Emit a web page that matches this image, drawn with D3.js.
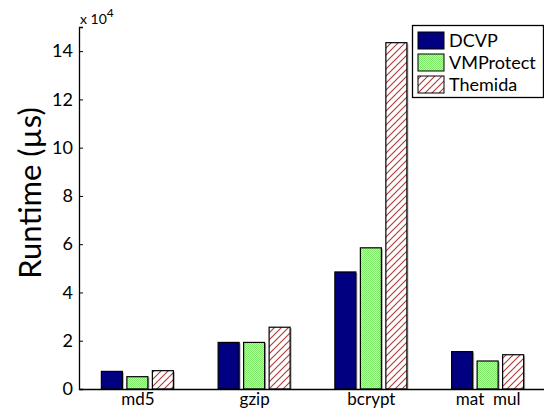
<!DOCTYPE html>
<html><head><meta charset="utf-8">
<script src="https://cdn.jsdelivr.net/npm/d3@7"></script>
<style>body{margin:0;background:#fff}svg{display:block}text{font-family:Lato,"Open Sans",sans-serif;fill:#000}</style>
</head><body><svg id="c" width="544" height="410"></svg>
<script>
const categories = ["md5", "gzip", "bcrypt", "mat  mul"];
const seriesNames = ["DCVP", "VMProtect", "Themida"];
const dcvp = [7300, 19300, 48500, 15500];
const vmprotect = [5100, 19300, 58500, 11600];
const themida = [7600, 25600, 143500, 14200];
const yTicks = [0, 2, 4, 6, 8, 10, 12, 14];
const values = [dcvp, vmprotect, themida];

const svg = d3.select("#c");
const defs = svg.append("defs");
const hp = defs.append("pattern").attr("id","hatch").attr("patternUnits","userSpaceOnUse").attr("width",7).attr("height",7);
hp.append("rect").attr("width",7).attr("height",7).attr("fill","#fff");
hp.append("path").attr("d","M0,7 L7,0 M-1,1 L1,-1 M6,8 L8,6").attr("stroke","#b03838").attr("stroke-width",1.1);
const gp = defs.append("pattern").attr("id","green").attr("patternUnits","userSpaceOnUse").attr("width",2).attr("height",2);
gp.append("rect").attr("width",2).attr("height",2).attr("fill","#b8ff98");
gp.append("rect").attr("width",1).attr("height",1).attr("fill","#80e868");
gp.append("rect").attr("x",1).attr("y",1).attr("width",1).attr("height",1).attr("fill","#80e868");
const fills = ["#000080", "url(#green)", "url(#hatch)"];

const x = d3.scaleLinear().domain([0.5, 4.5]).range([79, 546]);
const xs = d3.scaleBand().domain(seriesNames).range([-36, 36]).paddingInner(0.176);
const y = d3.scaleLinear().domain([0, 15]).range([389, 27]);

// bars
seriesNames.forEach((s, si) => {
  const g = svg.append("g");
  g.selectAll("rect.sh").data(values[si]).enter().append("rect")
    .attr("x", (d,i) => x(i+1) + xs(s) + xs.bandwidth() - 0.5)
    .attr("y", d => y(d/1e4) + 1)
    .attr("width", 2).attr("height", d => y(0) - y(d/1e4) - 1)
    .attr("fill", "#aaa");
  g.selectAll("rect.b").data(values[si]).enter().append("rect")
    .attr("x", (d,i) => x(i+1) + xs(s))
    .attr("y", d => y(d/1e4))
    .attr("width", xs.bandwidth())
    .attr("height", d => y(0) - y(d/1e4))
    .attr("fill", fills[si]).attr("stroke", "#000").attr("stroke-width", 1.2);
});

// y axis
const ya = svg.append("g").attr("transform", "translate(79,0)")
  .call(d3.axisRight(y).tickValues(yTicks).tickSize(4).tickFormat(d3.format("d")));
ya.select(".domain").attr("stroke","#000").attr("stroke-width",1.3);
ya.selectAll(".tick line").attr("stroke","#000");
ya.selectAll(".tick text").attr("x", -6).attr("text-anchor","end").attr("font-size",18).attr("font-family","Lato");

// x axis
const xa = svg.append("g").attr("transform", "translate(0,389)")
  .call(d3.axisBottom(x).tickValues([1,2,3,4]).tickSize(0).tickFormat((d,i) => categories[i]));
xa.select(".domain").attr("stroke","#000").attr("stroke-width",1.3);
xa.selectAll(".tick text").attr("dy", 0).attr("y", 16).attr("font-size",17).attr("font-family","Lato").style("white-space","pre");

// exponent label
const ex = svg.append("text").attr("x", 80).attr("y", 24).attr("font-size", 14);
ex.append("tspan").text("x 10");
ex.append("tspan").attr("dy", -7).attr("font-size", 12).text("4");

// y title
svg.append("text").attr("transform","translate(41,193) rotate(-90)").attr("text-anchor","middle")
  .attr("font-size", 31).text("Runtime (\u00b5s)");

// legend
const lg = svg.append("g");
lg.append("rect").attr("x",412.5).attr("y",25.5).attr("width",131).attr("height",72).attr("fill","#fff").attr("stroke","#000").attr("stroke-width",1.3);
const ly = [32, 54, 76];
seriesNames.forEach((s, i) => {
  lg.append("rect").attr("x",418).attr("y",ly[i]).attr("width",26).attr("height",17).attr("fill",fills[i]).attr("stroke","#000").attr("stroke-width",1);
  lg.append("text").attr("x",449).attr("y",ly[i]+15).attr("font-size",18).text(s);
});
</script></body></html>
